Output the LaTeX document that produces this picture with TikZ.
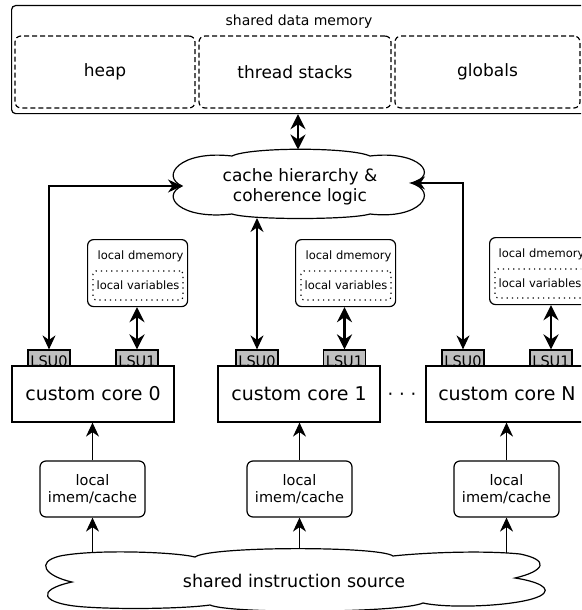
\documentclass[tikz,border=0pt]{standalone}
\usepackage{fontspec}
\setmainfont{DejaVu Sans}
\usetikzlibrary{arrows.meta,calc}
\definecolor{lsugray}{gray}{0.75}
\newcommand{\lsutxt}[1]{\raisebox{-2.5pt}[11pt][0pt]{#1}}
\begin{document}
\begin{tikzpicture}[x=1pt,y=-1pt,
  line width=1.2pt,
  membox/.style={draw, rounded corners=4pt, minimum width=577pt, minimum height=108pt, anchor=north west, inner sep=0pt},
  region/.style={draw, dash pattern=on 5pt off 3pt, rounded corners=6pt, minimum height=72pt, inner sep=0pt, font=\fontsize{17}{20}\selectfont},
  core/.style={draw, fill=white, minimum width=162pt, minimum height=56pt, inner sep=0pt, font=\fontsize{19}{22}\selectfont},
  lsu/.style={draw, fill=lsugray, minimum width=42pt, minimum height=16pt, inner sep=0pt, font=\fontsize{14.5}{16}\selectfont},
  dmem/.style={draw, rounded corners=6pt, minimum width=100pt, minimum height=67pt, inner sep=0pt, anchor=north west},
  vars/.style={draw, dash pattern=on 1.2pt off 4pt, rounded corners=3pt, minimum width=90pt, minimum height=29pt, inner sep=0pt, font=\fontsize{11.5}{13}\selectfont},
  small/.style={font=\fontsize{11.5}{13}\selectfont, inner sep=0pt},
  imem/.style={draw, rounded corners=6pt, minimum width=105pt, minimum height=56pt, inner sep=0pt, align=center, font=\fontsize{14.5}{17}\selectfont},
  arr/.style={-{Stealth[length=14pt,width=13pt,inset=4.5pt]}},
  biarr/.style={{Stealth[length=14pt,width=13pt,inset=4.5pt]}-{Stealth[length=14pt,width=13pt,inset=4.5pt]}},
  bibig/.style={line width=2.4pt, {Stealth[length=15pt,width=15pt,inset=5pt]}-{Stealth[length=15pt,width=15pt,inset=5pt]}},
]
\clip (0,0) rectangle (581,610);

% shared data memory
\node[membox] (mem) at (11,5) {};
\node[font=\fontsize{14}{16}\selectfont, inner sep=0pt] (memt) at (299,22) {shared data memory};
\node[region, minimum width=180pt] (heap) at (105,72) {heap};
\node[region, minimum width=192pt] (stk) at (295,72) {thread stacks};
\node[region, minimum width=185pt] (glob) at (487.5,72) {globals};

% cache cloud
\node[align=center, font=\fontsize{17}{20}\selectfont, inner sep=0pt] (cache) at (300,187) {cache hierarchy \&\\coherence logic};
\draw (182,186) .. controls (160,176) and (180,150) .. (232,156)
 .. controls (250,147) and (350,147) .. (370,156)
 .. controls (420,150) and (440,176) .. (411,183)
 .. controls (440,192) and (420,220) .. (370,214)
 .. controls (350,220) and (250,220) .. (232,214)
 .. controls (180,220) and (160,196) .. (182,186) -- cycle;
\coordinate (ctop) at (298,149.5);
\coordinate (cbot) at (257,218);
\coordinate (cleft) at (182,186);
\coordinate (cright) at (411,183);

% LSUs
\node[lsu] (l00) at (49,358) {\lsutxt{LSU0}};
\node[lsu] (l01) at (137,358) {\lsutxt{LSU1}};
\node[lsu] (l10) at (257,358) {\lsutxt{LSU0}};
\node[lsu] (l11) at (344.5,358) {\lsutxt{LSU1}};
\node[lsu] (lN0) at (463,358) {\lsutxt{LSU0}};
\node[lsu] (lN1) at (551,358) {\lsutxt{LSU1}};

% cores
\node[core] (c0) at (93,394) {custom core 0};
\node[core] (c1) at (299,394) {custom core 1};
\node[core] (cN) at (507,394) {custom core N};
\node[font=\fontsize{18}{20}\selectfont, inner sep=0pt, anchor=base] (dots) at (402,400) {· · ·};

% local dmemories
\node[dmem] (d0) at (87,239) {};
\node[vars] (v0) at (138,285.5) {local variables};
\node[small, anchor=west] (t0) at (97,256) {local dmemory};
\node[dmem] (d1) at (295,239) {};
\node[vars] (v1) at (346,285.5) {local variables};
\node[small, anchor=west] (t1) at (305,256) {local dmemory};
\node[dmem] (dN) at (489,237) {};
\node[vars] (vN) at (540,283.5) {local variables};
\node[small, anchor=west] (tN) at (498,254) {local dmemory};

% imem
\node[imem] (i0) at (92.5,489) {local\\imem/cache};
\node[imem] (i1) at (299.5,489) {local\\imem/cache};
\node[imem] (iN) at (506.5,489) {local\\imem/cache};

% instruction cloud
\node[font=\fontsize{17.5}{20}\selectfont, inner sep=0pt] (isrc) at (294,581) {shared instruction source};
\draw (195,557)
 .. controls (175,552) and (95,549) .. (60,556)
 .. controls (35,562) and (45,576) .. (72,582)
 .. controls (35,590) and (40,604) .. (85,607)
 .. controls (130,610) and (190,608) .. (210,605)
 .. controls (230,614) and (400,613) .. (423,603)
 .. controls (450,609) and (520,606) .. (540,596)
 .. controls (555,588) and (535,581) .. (515,578)
 .. controls (545,571) and (550,560) .. (520,554)
 .. controls (480,550) and (420,553) .. (393,556)
 .. controls (380,546) and (210,546) .. (195,557) -- cycle;
\coordinate (is0) at (92.5,552);
\coordinate (is1) at (299.5,548.5);
\coordinate (isN) at (506.5,553);

% connectors
\draw[bibig] (mem.south -| ctop) -- (ctop);
\draw[biarr] (cleft) -| (l00.north);
\draw[biarr] (cbot) -- (l10.north);
\draw[biarr] (cright) -| (lN0.north);
\draw[bibig] (d0.south -| l01.north) -- (l01.north);
\draw[bibig] (d1.south -| l11.north) -- (l11.north);
\draw[bibig] (dN.south -| lN1.north) -- (lN1.north);
\draw[arr] (i0.north) -- (i0.north |- c0.south);
\draw[arr] (i1.north) -- (i1.north |- c1.south);
\draw[arr] (iN.north) -- (iN.north |- cN.south);
\draw[arr] (is0) -- (i0.south);
\draw[arr] (is1) -- (i1.south);
\draw[arr] (isN) -- (iN.south);
\end{tikzpicture}
\end{document}
